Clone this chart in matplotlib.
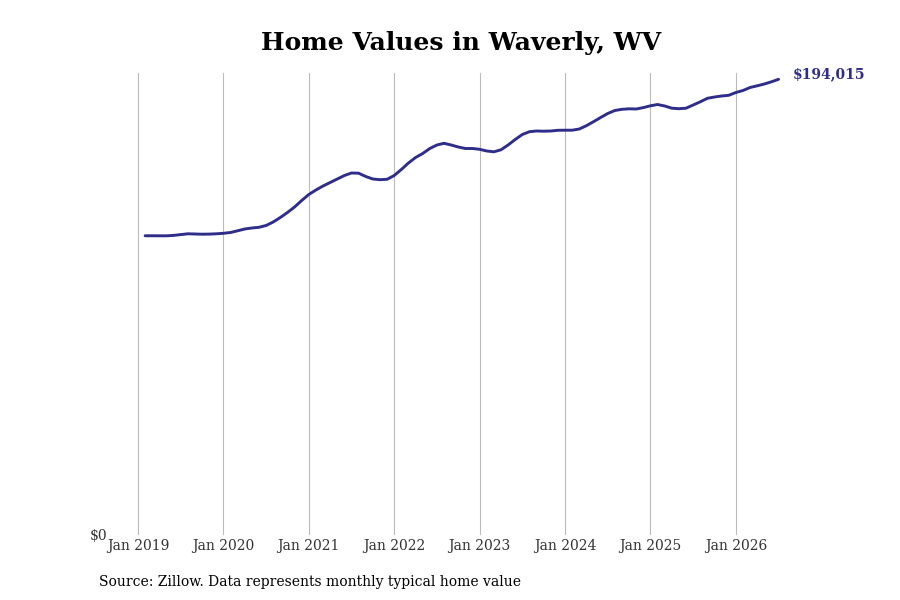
import matplotlib
matplotlib.use("Agg")
import matplotlib.pyplot as plt

# Monthly typical home value, Feb 2019 .. Jul 2026 (month index 0 = Jan 2019)
months = list(range(1, 91))
values = [
    127400, 127400, 127380, 127380, 127555, 127895, 128236, 128150, 128065, 128108, 128236,
    128449, 128790, 129514, 130280, 130705, 131003, 131769, 133260, 135176, 137304, 139646, 142413,
    144968, 146884, 148587, 150077, 151567, 153057, 154122, 154036, 152631, 151567, 151269, 151439,
    153057, 155612, 158379, 160721, 162424, 164552, 166043, 166766, 166043, 165191, 164552, 164552,
    164213, 163488, 163148, 164000, 166043, 168384, 170513, 171705, 172003, 171918, 172003, 172301,
    172344, 172344, 172855, 174260, 175963, 177751, 179454, 180731, 181242, 181455, 181370, 181966,
    182732, 183286, 182647, 181710, 181497, 181710, 183073, 184435, 185925, 186479, 186904, 187203,
    188395, 189246, 190523, 191247, 192013, 192950, 194015,
]
tick_positions = [0, 12, 24, 36, 48, 60, 72, 84]
tick_labels = ["Jan 2019", "Jan 2020", "Jan 2021", "Jan 2022",
               "Jan 2023", "Jan 2024", "Jan 2025", "Jan 2026"]
title = "Home Values in Waverly, WV"
source = "Source: Zillow. Data represents monthly typical home value"
line_color = "#2f2d8a"

plt.rcParams['font.family'] = ['DejaVu Serif']

fig = plt.figure(figsize=(9, 6), dpi=100)
ax = fig.add_axes([110/900, 1-535/600, (780-110)/900, (535-73)/600])

ax.plot(months, values, color=line_color, linewidth=2.1, solid_capstyle='round')

ax.set_xlim(-3.93, 90.2)
ax.set_ylim(0, 196697)
ax.set_xticks(tick_positions)
ax.set_xticklabels(tick_labels, fontsize=10, color="#333333")
ax.set_yticks([0])
ax.set_yticklabels(["$0"], fontsize=10, color="#333333")
ax.tick_params(axis='both', length=0, pad=3)
ax.tick_params(axis='y', pad=2)
ax.grid(axis='x', color="#bbbbbb", linewidth=0.8)
ax.set_axisbelow(True)
for s in ax.spines.values():
    s.set_visible(False)

ax.annotate(f"${values[-1]:,}", xy=(months[-1], values[-1]), xytext=(10, 4),
            textcoords='offset points', fontsize=10, fontweight='bold',
            color=line_color, va='center', ha='left', annotation_clip=False)

fig.text(461/900, 1-43/600, title, fontsize=18, fontweight='bold', ha='center', va='center')
fig.text(99/900, 1-582/600, source, fontsize=10, ha='left', va='center')

fig.savefig("out.png", dpi=100)
